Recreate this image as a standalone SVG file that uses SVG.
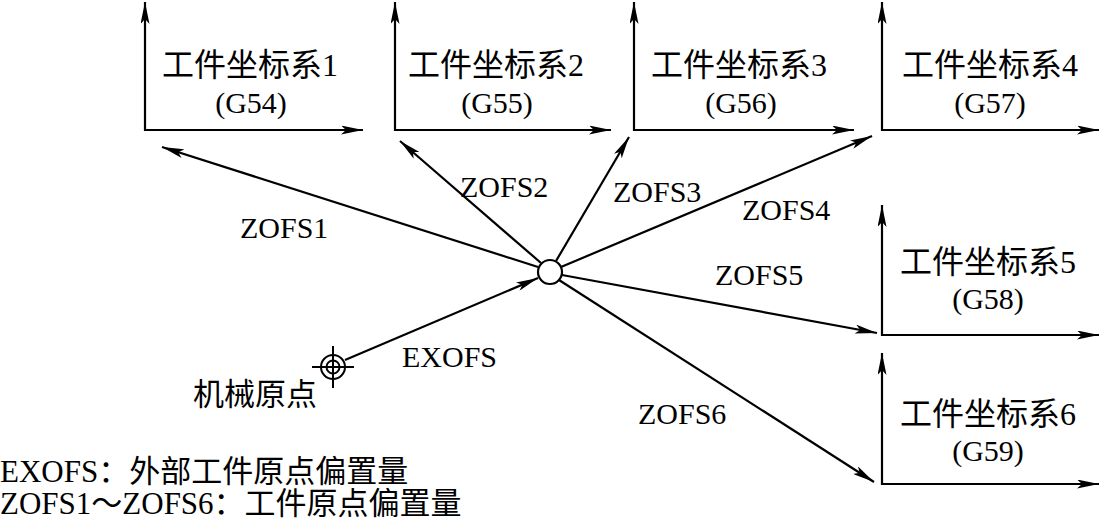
<svg xmlns="http://www.w3.org/2000/svg" width="1101" height="532" viewBox="0 0 1101 532">
<defs>
<marker id="ah" viewBox="0 0 22 9" refX="22" refY="4.5" markerWidth="22" markerHeight="9" markerUnits="userSpaceOnUse" orient="auto-start-reverse">
<path d="M0,0 L22,4.5 L0,9 L5,4.5 z" fill="#000"/>
</marker>
<style>
.ax{fill:none;stroke:#000;stroke-width:2.2;marker-start:url(#ah);marker-end:url(#ah)}
.cn{fill:none;stroke:#000;stroke-width:2.2;marker-end:url(#ah)}
text{font-family:"Liberation Serif","Noto Sans CJK SC",serif;font-size:30px;fill:#000}
.m{text-anchor:middle}
.t{font-size:32px}
.lg{font-size:31px}
</style>
</defs>
<rect width="1101" height="532" fill="#fff"/>
<g id="frame1">
<path class="ax" d="M145,2 L145,130 L363,130"/>
<text class="m t" x="250" y="76">工件坐标系1</text>
<text class="m" x="251" y="113">(G54)</text>
</g>
<g id="frame2">
<path class="ax" d="M395,2 L395,130 L611,130"/>
<text class="m t" x="496" y="76">工件坐标系2</text>
<text class="m" x="497" y="113">(G55)</text>
</g>
<g id="frame3">
<path class="ax" d="M634,2 L634,130 L854,130"/>
<text class="m t" x="739" y="76">工件坐标系3</text>
<text class="m" x="741" y="113">(G56)</text>
</g>
<g id="frame4">
<path class="ax" d="M882,2 L882,130 L1099,130"/>
<text class="m t" x="990" y="76">工件坐标系4</text>
<text class="m" x="990" y="113">(G57)</text>
</g>
<g id="frame5">
<path class="ax" d="M882,205 L882,335 L1099,335"/>
<text class="m t" x="988" y="273">工件坐标系5</text>
<text class="m" x="988" y="309">(G58)</text>
</g>
<g id="frame6">
<path class="ax" d="M882,353 L882,484 L1099,484"/>
<text class="m t" x="988" y="425">工件坐标系6</text>
<text class="m" x="988" y="461">(G59)</text>
</g>
<g id="center">
<circle cx="550" cy="272" r="12" fill="#fff" stroke="#000" stroke-width="2.2"/>
</g>
<g id="machine-origin">
<circle cx="333" cy="367" r="12" fill="none" stroke="#000" stroke-width="2"/>
<circle cx="333" cy="367" r="6.5" fill="none" stroke="#000" stroke-width="2"/>
<path d="M312,367 H354 M333,346 V388" stroke="#000" stroke-width="2"/>
<text x="193" y="405" style="font-size:31px">机械原点</text>
</g>
<g id="connectors">
<line class="cn" x1="538" y1="267" x2="162" y2="147"/>
<line class="cn" x1="541" y1="263" x2="400" y2="141"/>
<line class="cn" x1="556" y1="261" x2="629" y2="137"/>
<line class="cn" x1="561" y1="267" x2="872" y2="136"/>
<line class="cn" x1="562" y1="275" x2="877" y2="333"/>
<line class="cn" x1="559" y1="280" x2="874" y2="482"/>
<line class="cn" x1="345" y1="360" x2="538" y2="278"/>
<text x="240" y="238">ZOFS1</text>
<text x="460" y="197">ZOFS2</text>
<text x="613" y="202">ZOFS3</text>
<text x="742" y="220">ZOFS4</text>
<text x="715" y="285">ZOFS5</text>
<text x="638" y="424">ZOFS6</text>
<text x="402" y="367">EXOFS</text>
</g>
<g id="legend">
<text class="lg" x="0" y="482">EXOFS：外部工件原点偏置量</text>
<text class="lg" x="0" y="514">ZOFS1～ZOFS6：工件原点偏置量</text>
</g>
</svg>
